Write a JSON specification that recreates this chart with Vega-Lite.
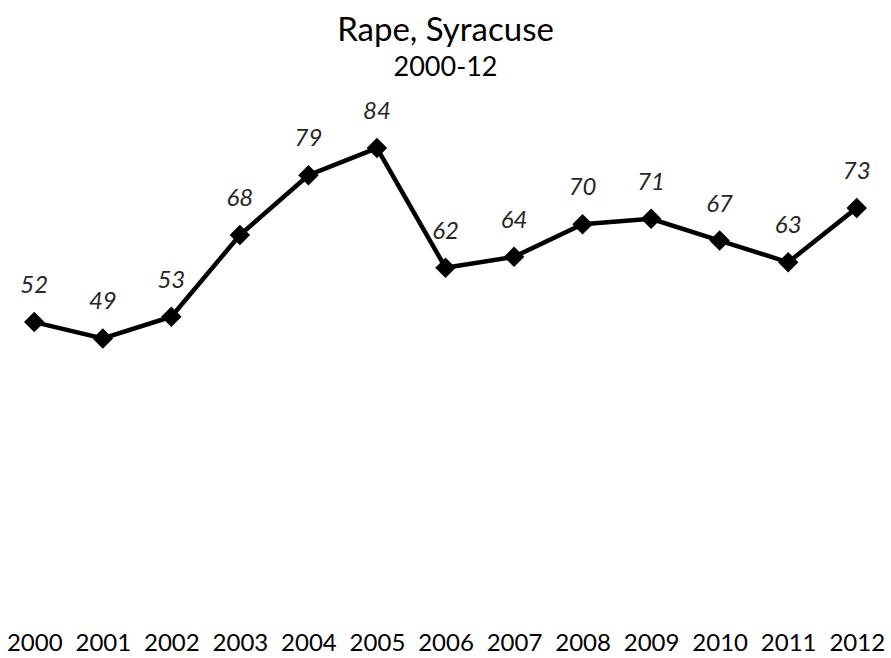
{
  "$schema": "https://vega.github.io/schema/vega-lite/v6.json",
  "width": 891,
  "height": 544,
  "autosize": {"type": "none"},
  "padding": {"top": 61, "left": 0, "right": 0, "bottom": 53},
  "background": "white",
  "config": {"view": {"stroke": null}, "font": "Lato"},
  "title": {
    "text": "Rape, Syracuse",
    "subtitle": "2000-12",
    "anchor": "middle",
    "frame": "group",
    "fontSize": 33,
    "fontWeight": "normal",
    "subtitleFontSize": 27,
    "subtitlePadding": 7,
    "color": "#000000",
    "subtitleColor": "#000000",
    "offset": -20
  },
  "data": {
    "values": [
      {"year": "2000", "value": 52},
      {"year": "2001", "value": 49},
      {"year": "2002", "value": 53},
      {"year": "2003", "value": 68},
      {"year": "2004", "value": 79},
      {"year": "2005", "value": 84},
      {"year": "2006", "value": 62},
      {"year": "2007", "value": 64},
      {"year": "2008", "value": 70},
      {"year": "2009", "value": 71},
      {"year": "2010", "value": 67},
      {"year": "2011", "value": 63},
      {"year": "2012", "value": 73}
    ]
  },
  "encoding": {
    "x": {
      "field": "year",
      "type": "ordinal",
      "scale": {"type": "point", "padding": 0.5},
      "axis": {
        "title": null,
        "domain": false,
        "ticks": false,
        "labelAngle": 0,
        "labelFontSize": 24,
        "labelColor": "#000000",
        "labelPadding": 26,
        "grid": false
      }
    },
    "y": {
      "field": "value",
      "type": "quantitative",
      "scale": {"domain": [0, 100]},
      "axis": null
    }
  },
  "layer": [
    {"mark": {"type": "line", "color": "#000000", "strokeWidth": 4.5}},
    {"mark": {"type": "point", "shape": "diamond", "filled": true, "color": "#000000", "opacity": 1, "size": 420}},
    {
      "mark": {"type": "text", "dy": -36, "fontSize": 24, "fontStyle": "italic", "color": "#262626"},
      "encoding": {"text": {"field": "value", "type": "quantitative"}}
    }
  ]
}
